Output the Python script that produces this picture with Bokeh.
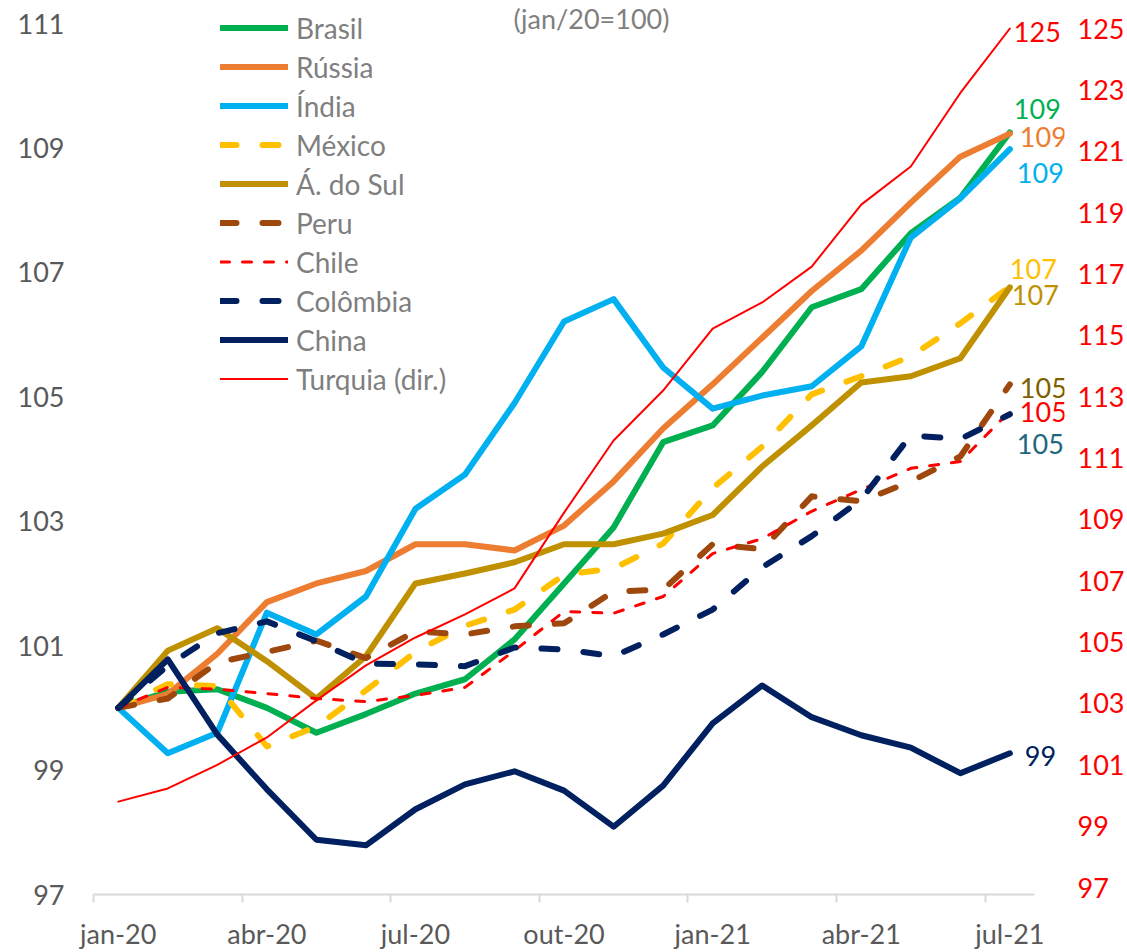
from bokeh.plotting import figure
from bokeh.models import Range1d, LinearAxis, FixedTicker, Legend, LegendItem, Label
from bokeh.embed import file_html
from bokeh.resources import INLINE

# ---------------- data ----------------
months = ["jan-20", "fev-20", "mar-20", "abr-20", "mai-20", "jun-20", "jul-20",
          "ago-20", "set-20", "out-20", "nov-20", "dez-20", "jan-21", "fev-21",
          "mar-21", "abr-21", "mai-21", "jun-21", "jul-21"]
tick_months = ["jan-20", "abr-20", "jul-20", "out-20", "jan-21", "abr-21", "jul-21"]
left_ticks = [97, 99, 101, 103, 105, 107, 109, 111]
right_ticks = [97, 99, 101, 103, 105, 107, 109, 111, 113, 115, 117, 119, 121, 123, 125]

brasil = [100, 100.26, 100.3, 100.0, 99.6, 99.9, 100.23, 100.46, 101.1, 102.0,
          102.9, 104.27, 104.54, 105.4, 106.44, 106.73, 107.63, 108.2, 109.25]
russia = [100, 100.22, 100.87, 101.7, 102.0, 102.2, 102.63, 102.63, 102.53, 102.93,
          103.64, 104.49, 105.2, 105.95, 106.7, 107.35, 108.12, 108.86, 109.23]
india = [100, 99.27, 99.6, 101.53, 101.18, 101.79, 103.2, 103.75, 104.9, 106.21,
         106.57, 105.47, 104.81, 105.02, 105.17, 105.81, 107.56, 108.19, 108.98]
mexico = [100, 100.38, 100.35, 99.38, 99.7, 100.28, 100.9, 101.32, 101.58, 102.14,
          102.24, 102.64, 103.53, 104.2, 105.04, 105.33, 105.65, 106.18, 106.77]
africa_sul = [100, 100.92, 101.28, 100.75, 100.15, 100.83, 102.0, 102.16, 102.34, 102.63,
              102.63, 102.8, 103.1, 103.88, 104.54, 105.23, 105.33, 105.62, 106.76]
peru = [100, 100.15, 100.73, 100.9, 101.08, 100.8, 101.23, 101.18, 101.31, 101.36,
        101.87, 101.9, 102.63, 102.55, 103.4, 103.32, 103.64, 104.04, 105.2]
chile = [100, 100.33, 100.3, 100.23, 100.15, 100.1, 100.2, 100.33, 100.92, 101.55,
         101.52, 101.79, 102.48, 102.72, 103.16, 103.51, 103.85, 103.96, 104.77]
colombia = [100, 100.68, 101.2, 101.39, 101.07, 100.71, 100.7, 100.67, 100.97, 100.94,
            100.83, 101.18, 101.58, 102.26, 102.76, 103.35, 104.38, 104.32, 104.72]
china = [100, 100.78, 99.57, 98.69, 97.88, 97.79, 98.37, 98.77, 98.98, 98.67,
         98.09, 98.75, 99.75, 100.36, 99.85, 99.56, 99.36, 98.95, 99.27]
turquia = [99.8, 100.23, 101.0, 101.89, 103.1, 104.24, 105.15, 105.9, 106.75, 109.22,
           111.57, 113.2, 115.22, 116.07, 117.24, 119.26, 120.5, 122.9, 125.0]

series_names = ["Brasil", "Rússia", "Índia", "México", "Á. do Sul", "Peru", "Chile",
                "Colômbia", "China", "Turquia (dir.)"]
series_values = [brasil, russia, india, mexico, africa_sul, peru, chile, colombia, china, turquia]
title_text = "(jan/20=100)"

# ---------------- styles ----------------
FONT = "Lato, 'Open Sans', sans-serif"
styles = {
    "Brasil":         dict(color="#00B050", width=6, dash="solid", axis="default", lab="#00B050", dx=4, dy=-23),
    "Rússia":         dict(color="#ED7D31", width=6, dash="solid", axis="default", lab="#ED7D31", dx=10, dy=3),
    "Índia":          dict(color="#00B0F0", width=6, dash="solid", axis="default", lab="#00B0F0", dx=7, dy=24),
    "México":         dict(color="#FFC000", width=6, dash="16 26", axis="default", lab="#FFC000", dx=0, dy=-18),
    "Á. do Sul":      dict(color="#BF9000", width=6, dash="solid", axis="default", lab="#BF9000", dx=2, dy=8),
    "Peru":           dict(color="#9E480E", width=6, dash="16 26", axis="default", lab="#7F6000", dx=10, dy=4),
    "Chile":          dict(color="#FF0000", width=3, dash="9 13", axis="default", lab="#FF0000", dx=10, dy=1),
    "Colômbia":       dict(color="#002060", width=6, dash="16 26", axis="default", lab="#1F6680", dx=7, dy=30),
    "China":          dict(color="#002060", width=6, dash="solid", axis="default", lab="#002060", dx=15, dy=3),
    "Turquia (dir.)": dict(color="#FF0000", width=2, dash="solid", axis="right", lab="#FF0000", dx=4, dy=3),
}

xs = list(range(len(months)))
tick_idx = [months.index(m) for m in tick_months]
x_lo, x_hi = -0.5, len(months) - 0.5

p = figure(width=1127, height=952, output_backend="svg", toolbar_location=None,
           x_range=Range1d(x_lo, 19.103),
           y_range=Range1d(left_ticks[0], 111.37),
           min_border_left=93, min_border_right=59, min_border_top=0, min_border_bottom=58)
p.extra_y_ranges = {"right": Range1d(96.772, 125.913)}
p.outline_line_color = None
p.grid.visible = False
p.background_fill_color = "white"

# x axis
xa = p.xaxis[0]
xa.bounds = (x_lo, x_hi)
xa.ticker = FixedTicker(ticks=tick_idx, minor_ticks=[i - 0.5 for i in tick_idx])
xa.major_label_overrides = {i: m for i, m in zip(tick_idx, tick_months)}
xa.major_tick_line_color = None
xa.minor_tick_line_color = "#D9D9D9"
xa.minor_tick_line_width = 2
xa.minor_tick_in = 0
xa.minor_tick_out = 8
xa.axis_line_color = "#D9D9D9"
xa.axis_line_width = 2
xa.major_label_standoff = 14
xa.major_label_text_font = FONT
xa.major_label_text_font_size = "27px"
xa.major_label_text_color = "#595959"

# left axis
ya = p.yaxis[0]
ya.ticker = FixedTicker(ticks=left_ticks, minor_ticks=[])
ya.axis_line_color = None
ya.major_tick_line_color = None
ya.minor_tick_line_color = None
ya.major_tick_out = 0
ya.major_label_standoff = 29
ya.major_label_text_font = FONT
ya.major_label_text_font_size = "27px"
ya.major_label_text_color = "#595959"

# right axis
ra = LinearAxis(y_range_name="right", ticker=FixedTicker(ticks=right_ticks, minor_ticks=[]))
ra.axis_line_color = None
ra.major_tick_line_color = None
ra.minor_tick_line_color = None
ra.major_tick_out = 0
ra.major_label_standoff = 13
ra.major_label_text_font = FONT
ra.major_label_text_font_size = "27px"
ra.major_label_text_color = "#FF0000"
p.add_layout(ra, "right")

items = []
for name, vals in zip(series_names, series_values):
    st = styles[name]
    kw = dict(line_color=st["color"], line_width=st["width"], line_join="round", line_cap="round")
    if st["dash"] != "solid":
        kw["line_dash"] = st["dash"]
    if st["axis"] == "right":
        kw["y_range_name"] = "right"
    r = p.line(xs, vals, **kw)
    items.append(LegendItem(label=name, renderers=[r]))
    lab = Label(x=xs[-1], y=vals[-1], text=f"{vals[-1]:.0f}", x_offset=st["dx"], y_offset=-st["dy"],
                text_align="left", text_baseline="middle", text_font=FONT,
                text_font_size="27px", text_color=st["lab"])
    if st["axis"] == "right":
        lab.y_range_name = "right"
    p.add_layout(lab)

legend = Legend(items=items, location=(127, 496), orientation="vertical",
                label_text_font=FONT, label_text_font_size="28px", label_text_color="#7F7F7F",
                glyph_width=68, glyph_height=39, label_height=39, spacing=0, padding=0, margin=0,
                label_standoff=8, border_line_color=None, background_fill_alpha=0)
p.add_layout(legend)

title = Label(x=9.553, y=893, x_units="data", y_units="screen", text=title_text,
              text_align="center", text_baseline="top", text_font=FONT,
              text_font_size="27px", text_color="#7F7F7F")
p.add_layout(title)

open("out.html", "w").write(file_html(p, INLINE))
